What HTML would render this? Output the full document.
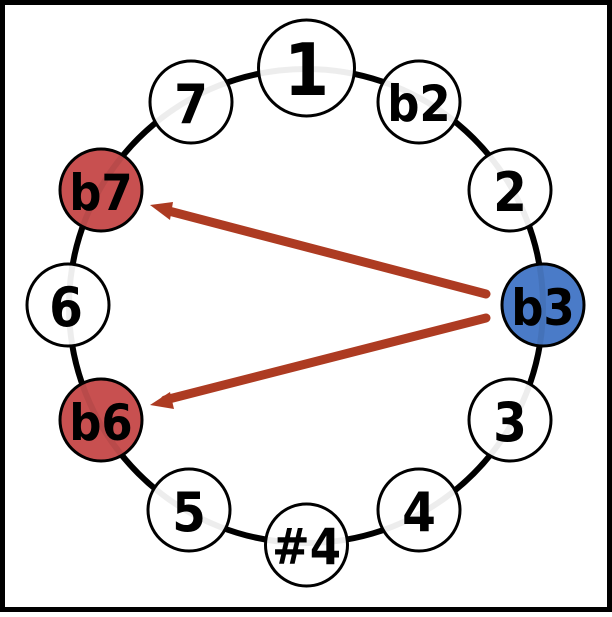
<!DOCTYPE html>
<html><head><style>body{margin:0;background:#fff}</style></head><body>
<svg width="612" height="612" viewBox="0 0 612 612" xmlns="http://www.w3.org/2000/svg">
<rect x="2.5" y="2.5" width="607" height="607" fill="#fff" stroke="#000" stroke-width="5"/>
<circle cx="306" cy="306" r="237" fill="none" stroke="#000" stroke-width="6"/>
<g stroke="#000" stroke-width="3" fill="#fff">
<circle cx="306.5" cy="68" r="48"/>
<circle cx="191" cy="102" r="41"/>
<circle cx="419" cy="102" r="41"/>
<circle cx="101" cy="190" r="41" fill="#c85050"/>
<circle cx="510" cy="190" r="41"/>
<circle cx="68" cy="305" r="41"/>
<circle cx="543" cy="305" r="41" fill="#4a7bc8"/>
<circle cx="101" cy="420" r="41" fill="#c85050"/>
<circle cx="510" cy="420" r="41"/>
<circle cx="189" cy="510" r="41"/>
<circle cx="419" cy="510" r="41"/>
<circle cx="306.5" cy="545" r="41"/>
</g>
<circle cx="306" cy="306" r="237" fill="none" stroke="#000" stroke-opacity="0.07" stroke-width="6"/>
<g font-family="DejaVu Sans Condensed, DejaVu Sans, sans-serif" font-weight="bold" text-anchor="middle" fill="#000">
<text x="306.5" y="95" font-size="72">1</text>
<text x="191" y="123" font-size="54">7</text>
<text x="419" y="121" font-size="50">b2</text>
<text x="101" y="210" font-size="50">b7</text>
<text x="510" y="211" font-size="54">2</text>
<text x="66" y="326" font-size="54">6</text>
<text x="543" y="325" font-size="50">b3</text>
<text x="101" y="440" font-size="50">b6</text>
<text x="510" y="441" font-size="54">3</text>
<text x="189" y="531" font-size="54">5</text>
<text x="419" y="531" font-size="54">4</text>
<text x="306.5" y="564" font-size="50">#4</text>
</g>
<g stroke="#ad3b22" stroke-width="9" stroke-linecap="round" fill="#ad3b22">
<line x1="486" y1="294" x2="165" y2="210"/>
<line x1="486" y1="318" x2="165" y2="400"/>
</g>
<g fill="#ad3b22">
<polygon points="150,205 173,202 170,220"/>
<polygon points="150,405 170,392 174,409"/>
</g>
</svg>
</body></html>
